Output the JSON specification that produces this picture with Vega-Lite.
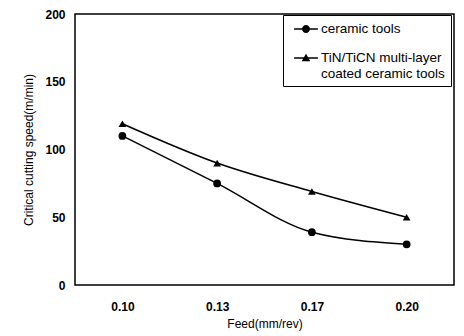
{
  "$schema": "https://vega.github.io/schema/vega-lite/v6.json",
  "width": 379,
  "height": 271,
  "autosize": {"type": "none"},
  "padding": {"left": 75, "top": 14, "right": 10, "bottom": 51},
  "background": "white",
  "config": {
    "view": {"stroke": "black", "strokeWidth": 1.5},
    "font": "Liberation Sans",
    "axis": {"grid": false, "ticks": false, "domain": false, "labelColor": "black", "titleColor": "black", "labelFont": "Liberation Sans", "titleFont": "Liberation Sans"}
  },
  "data": {
    "values": [
      {"feed": "0.10", "speed": 110, "series": "ceramic tools"},
      {"feed": "0.13", "speed": 75, "series": "ceramic tools"},
      {"feed": "0.17", "speed": 39, "series": "ceramic tools"},
      {"feed": "0.20", "speed": 30, "series": "ceramic tools"},
      {"feed": "0.10", "speed": 119, "series": "TiN/TiCN multi-layer coated ceramic tools"},
      {"feed": "0.13", "speed": 90, "series": "TiN/TiCN multi-layer coated ceramic tools"},
      {"feed": "0.17", "speed": 69, "series": "TiN/TiCN multi-layer coated ceramic tools"},
      {"feed": "0.20", "speed": 50, "series": "TiN/TiCN multi-layer coated ceramic tools"}
    ]
  },
  "encoding": {
    "x": {
      "field": "feed", "type": "ordinal", "sort": null,
      "scale": {"type": "point", "padding": 0.5},
      "axis": {"title": "Feed(mm/rev)", "labelAngle": 0, "labelFontSize": 12, "labelFontWeight": "bold", "labelPadding": 16, "titleFontSize": 12, "titleFontWeight": "normal", "titlePadding": 6}
    },
    "y": {
      "field": "speed", "type": "quantitative",
      "scale": {"domain": [0, 200]},
      "axis": {"title": "Critical cutting speed(m/min)", "values": [0, 50, 100, 150, 200], "labelFontSize": 12, "labelFontWeight": "bold", "labelPadding": 10, "titleFontSize": 12, "titleFontWeight": "normal", "titlePadding": 9}
    }
  },
  "layer": [
    {
      "mark": {"type": "line", "interpolate": "monotone", "color": "black", "strokeWidth": 1.5},
      "encoding": {"detail": {"field": "series"}}
    },
    {
      "mark": {"type": "point", "filled": true, "color": "black", "opacity": 1, "size": 60},
      "encoding": {
        "shape": {
          "field": "series", "type": "nominal",
          "scale": {"domain": ["ceramic tools", "TiN/TiCN multi-layer coated ceramic tools"], "range": ["circle", "triangle-up"]},
          "legend": null
        }
      }
    },
    {
      "mark": {"type": "point", "filled": true, "color": "black", "opacity": 0, "size": 196},
      "encoding": {
        "shape": {
          "field": "series", "type": "nominal",
          "scale": {"domain": ["ceramic tools", "TiN/TiCN multi-layer coated ceramic tools"], "range": [
            "M-1.7,-0.1H1.7V0.1H-1.7Z M0.57,0 A0.57,0.57 0 1,1 -0.57,0 A0.57,0.57 0 1,1 0.57,0Z",
            "M-1.7,-0.1H1.7V0.1H-1.7Z M0,-0.62 L0.62,0.48 L-0.62,0.48Z"
          ]},
          "legend": {
            "title": null,
            "orient": "none",
            "legendX": 208,
            "legendY": 1,
            "strokeColor": "black",
            "padding": 6,
            "labelFontSize": 13.5,
            "labelFont": "Liberation Sans",
            "labelColor": "black",
            "labelLimit": 300,
            "rowPadding": 14,
            "symbolSize": 196,
            "symbolOffset": 9,
            "labelOffset": 7,
            "labelExpr": "datum.label == 'ceramic tools' ? 'ceramic tools' : ['TiN/TiCN multi-layer', 'coated ceramic tools']",
            "encode": {"symbols": {"update": {"opacity": {"value": 1}, "fill": {"value": "black"}, "stroke": {"value": "black"}, "strokeWidth": {"value": 0}}}, "labels": {"update": {"baseline": {"value": "top"}}}}
          }
        }
      }
    }
  ],
  "resolve": {"scale": {"shape": "independent"}, "legend": {"shape": "independent"}}
}
